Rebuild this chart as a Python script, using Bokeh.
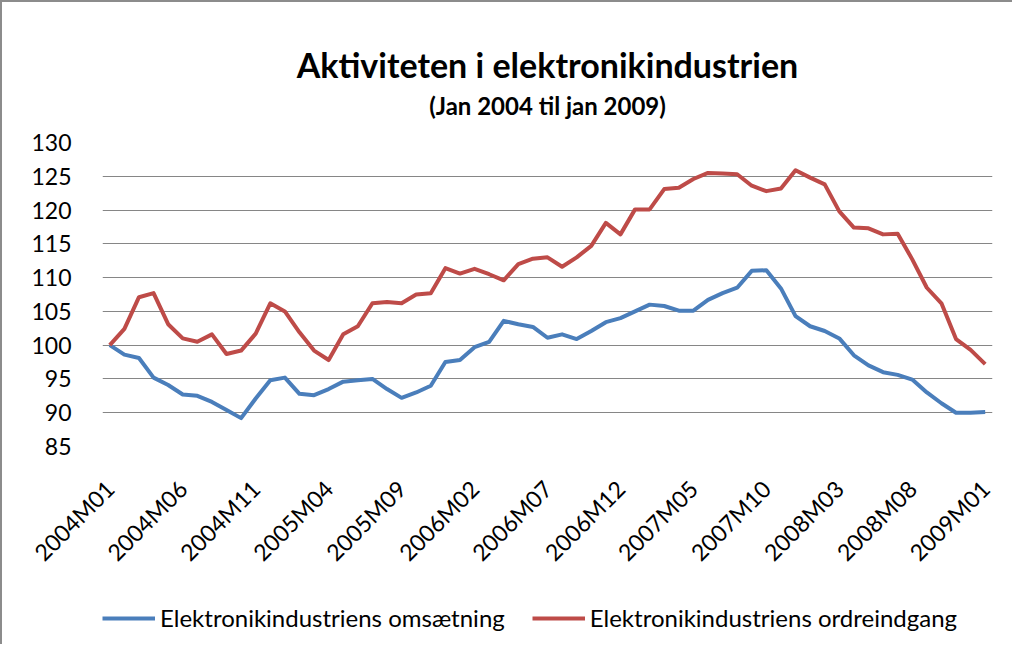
import math
from bokeh.plotting import figure
from bokeh.layouts import column
from bokeh.models import FixedTicker, Legend, LegendItem, Title
from bokeh.embed import file_html
from bokeh.resources import INLINE

# ---- data ----
months = [f"{2004 + i // 12}M{i % 12 + 1:02d}" for i in range(61)]
omsaetning = [100.0, 98.6, 98.1, 95.2, 94.1, 92.7, 92.5, 91.6, 90.4, 89.2,
              92.1, 94.8, 95.2, 92.8, 92.6, 93.5, 94.6, 94.8, 95.0, 93.5,
              92.2, 93.0, 94.0, 97.5, 97.8, 99.7, 100.5, 103.6, 103.1, 102.7,
              101.1, 101.6, 100.9, 102.1, 103.4, 104.0, 105.0, 106.0, 105.8, 105.1,
              105.1, 106.7, 107.7, 108.5, 111.0, 111.1, 108.4, 104.3, 102.8, 102.1,
              101.0, 98.5, 97.0, 96.0, 95.6, 94.9, 93.0, 91.4, 90.0, 90.0, 90.1]
ordreindgang = [100.0, 102.4, 107.1, 107.7, 103.1, 101.0, 100.5, 101.6, 98.7, 99.2,
                101.7, 106.2, 105.0, 101.9, 99.2, 97.8, 101.6, 102.8, 106.2, 106.4,
                106.2, 107.5, 107.7, 111.4, 110.6, 111.3, 110.5, 109.6, 112.0, 112.8,
                113.0, 111.6, 113.0, 114.7, 118.1, 116.4, 120.1, 120.1, 123.1, 123.3,
                124.6, 125.5, 125.4, 125.3, 123.6, 122.8, 123.2, 125.9, 124.8, 123.8,
                119.8, 117.4, 117.3, 116.4, 116.5, 112.7, 108.5, 106.2, 100.9, 99.3, 97.2]
y_ticks = [85, 90, 95, 100, 105, 110, 115, 120, 125, 130]
x_tick_idx = list(range(0, 61, 5))
series_names = ["Elektronikindustriens omsætning", "Elektronikindustriens ordreindgang"]
series_colors = ["#4A7EBB", "#BE4B48"]
title_text = "Aktiviteten i elektronikindustrien"
subtitle_text = "(Jan 2004 til jan 2009)"

FONT = "Lato"
BORDER = "2px solid #8c8c8c"
x = list(range(len(months)))

# ---- main chart ----
p = figure(frame_width=888, frame_height=302,
           x_range=(-0.5, 60.5), y_range=(85, 130),
           min_border_left=100, min_border_top=140, min_border_right=22, min_border_bottom=140,
           output_backend="svg", toolbar_location=None)
p.styles = {"border-top": BORDER, "border-left": BORDER}
p.outline_line_color = None
p.background_fill_color = "white"
p.border_fill_color = "white"

p.line(x, omsaetning, line_color=series_colors[0], line_width=4, line_join="round")
p.line(x, ordreindgang, line_color=series_colors[1], line_width=4, line_join="round")

p.xgrid.grid_line_color = None
p.ygrid.grid_line_color = "#868686"
p.ygrid.grid_line_width = 1
p.yaxis.ticker = FixedTicker(ticks=y_ticks)
p.xaxis.ticker = FixedTicker(ticks=x_tick_idx)
p.xaxis.major_label_overrides = {i: months[i] for i in x_tick_idx}
p.xaxis.major_label_orientation = math.pi / 4

for ax in (p.xaxis[0], p.yaxis[0]):
    ax.axis_line_color = None
    ax.major_tick_line_color = None
    ax.minor_tick_line_color = None
    ax.major_label_text_font = FONT
    ax.major_label_text_font_size = "23px"
    ax.major_label_text_color = "black"
p.yaxis.major_label_standoff = 25
p.xaxis.major_label_standoff = 32

# above panels stack outward from the frame in the order they are added
p.add_layout(Title(text=" ", text_font=FONT, text_font_size="17px", standoff=0), "above")
p.add_layout(Title(text=subtitle_text, align="center", text_font=FONT, text_font_size="24px",
                   text_font_style="bold", text_color="black", standoff=0), "above")
p.add_layout(Title(text=title_text, align="center", text_font=FONT, text_font_size="34px",
                   text_font_style="bold", text_color="black", standoff=8), "above")

# ---- legend strip below the chart (legend sits inside this strip's frame) ----
lg = figure(width=1010, height=60, x_range=(0, 1), y_range=(0, 1),
            min_border=0, output_backend="svg", toolbar_location=None)
lg.styles = {"border-left": BORDER}
lg.outline_line_color = None
lg.axis.visible = False
lg.grid.visible = False
lg.background_fill_color = "white"
lg.border_fill_color = "white"
# same series, outside this strip's ranges: they only feed the legend swatches
k1 = lg.line(x, omsaetning, line_color=series_colors[0], line_width=4)
k2 = lg.line(x, ordreindgang, line_color=series_colors[1], line_width=4)

legend = Legend(items=[LegendItem(label=series_names[0], renderers=[k1]),
                       LegendItem(label=series_names[1], renderers=[k2])],
                orientation="horizontal", location=(0, 12),
                padding=0, margin=0, spacing=27, glyph_width=53, glyph_height=20,
                label_standoff=5, label_text_font=FONT, label_text_font_size="24px",
                label_text_color="black", border_line_color=None, background_fill_alpha=0)
lg.add_layout(legend)

layout = column(p, lg, spacing=0)
open("out.html", "w").write(file_html(layout, INLINE))
